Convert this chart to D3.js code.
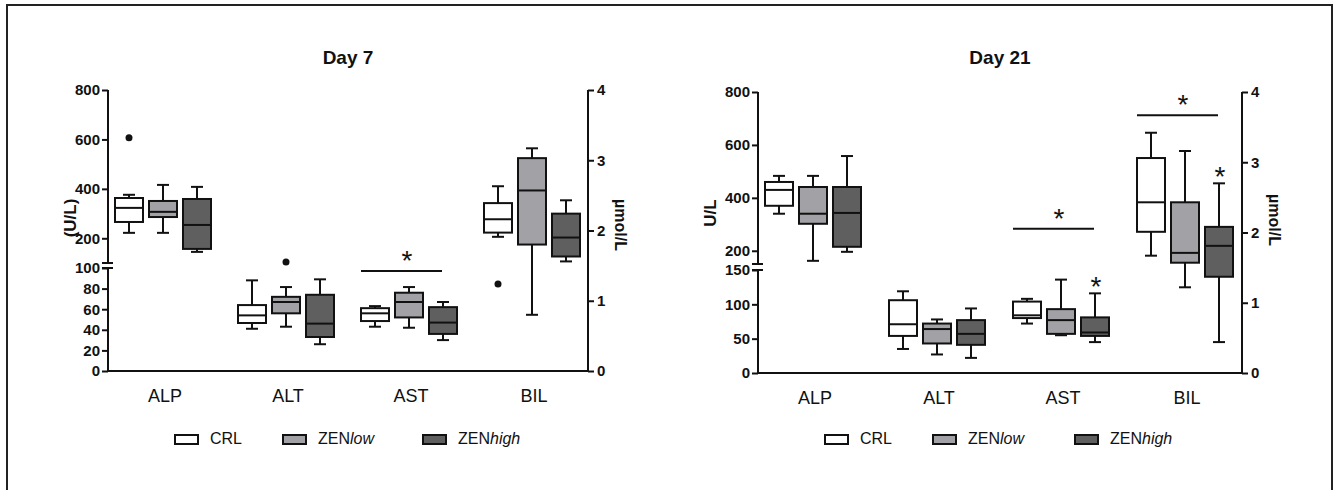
<!DOCTYPE html>
<html><head><meta charset="utf-8">
<script src="https://cdn.jsdelivr.net/npm/d3@7"></script>
<style>
body{margin:0;background:#fff;}
text{font-family:"Liberation Sans",Arial,sans-serif;fill:#111;}
</style></head>
<body><svg id="c" width="1338" height="490"></svg>
<script>
// ---------- data ----------
const categories = ["ALP","ALT","AST","BIL"];
const seriesNames = ["CRL","ZENlow","ZENhigh"];
const seriesColors = ["#ffffff","#a2a2a6","#5f5f5f"];
// each entry: [whiskerLow, q1, median, q3, whiskerHigh]; BIL is on the right (µmol/L) axis
const day7_CRL     = [[222,266,323,363,376],[41,46.6,54,64,88],[43,48.5,56,61,63],[1.91,1.97,2.16,2.39,2.63]];
const day7_ZENlow  = [[222,286,307,351,416],[43,56,67,72,81.5],[42,52,67,76,81.5],[0.8,1.8,2.57,3.03,3.17]];
const day7_ZENhigh = [[145,157,254,359,408],[26,33,46,74,89],[30,36,47,62,67],[1.56,1.63,1.9,2.24,2.43]];
const day7_outliers = [["ALP","CRL",607],["ALT","ZENlow",104],["BIL","CRL",1.24]];
const day7_brackets = [["AST",97]];
const day7_stars = [];

const day21_CRL     = [[340,370,430,460,483],[35,54,71,106,119],[72,80,84,104,108],[1.67,2.01,2.43,3.06,3.42]];
const day21_ZENlow  = [[162,302,340,441,483],[27,43,64,72,78],[55,57,77,93,136],[1.22,1.57,1.71,2.43,3.16]];
const day21_ZENhigh = [[196,215,343,441,558],[22,41,57,77,94],[45,54,59,81,116],[0.44,1.37,1.81,2.08,2.70]];
const day21_outliers = [];
const day21_brackets = [["AST",283],["BIL",3.67]];
const day21_stars = [["AST","ZENhigh"],["BIL","ZENhigh"]];

const day7_upperTicks = [200,400,600,800];
const day7_lowerTicks = [0,20,40,60,80,100];
const day21_upperTicks = [200,400,600,800];
const day21_lowerTicks = [0,50,100,150];
const rightTicks = [0,1,2,3,4];

const svg = d3.select("#c");
svg.append("rect").attr("x",7).attr("y",5).attr("width",1325).attr("height",520)
  .attr("fill","none").attr("stroke","#222").attr("stroke-width",2);

function panel(cfg){
  const g = svg.append("g");
  const yU = d3.scaleLinear().domain(cfg.upperDom).range(cfg.upperRange);
  const yL = d3.scaleLinear().domain(cfg.lowerDom).range(cfg.lowerRange);
  const yR = d3.scaleLinear().domain([0,4]).range([cfg.lowerRange[0], cfg.upperRange[1]]);
  const x = d3.scalePoint().domain(categories).range(cfg.xRange);
  const off = d3.scalePoint().domain(seriesNames).range([-34,34]);
  const bw = 28, cap = 12;
  const yv = (cat,v) => cat==="BIL" ? yR(v) : (v > cfg.lowerDom[1] ? yU(v) : yL(v));
  const data = [cfg.s0,cfg.s1,cfg.s2];

  // axes
  const axU = g.append("g").attr("transform",`translate(${cfg.ax},0)`)
    .call(d3.axisLeft(yU).tickValues(cfg.upperTicks).tickSize(6).tickSizeOuter(0).tickPadding(2));
  const axL = g.append("g").attr("transform",`translate(${cfg.ax},0)`)
    .call(d3.axisLeft(yL).tickValues(cfg.lowerTicks).tickSize(6).tickSizeOuter(0).tickPadding(2));
  const axR = g.append("g").attr("transform",`translate(${cfg.axR},0)`)
    .call(d3.axisRight(yR).tickValues(rightTicks).tickFormat(d3.format("d")).tickSize(6).tickSizeOuter(0).tickPadding(3));
  [axU,axL,axR].forEach(a=>{
    a.selectAll("path,line").attr("stroke","#111").attr("stroke-width",2);
    a.selectAll("text").attr("font-size","15px").attr("font-weight","bold").attr("fill","#111");
  });
  axU.select(".domain").attr("d",`M0,${cfg.upperRange[0]}V${cfg.upperRange[1]}`);
  axL.select(".domain").attr("d",`M0,${cfg.lowerRange[0]}V${cfg.lowerRange[1]}`);
  axR.select(".domain").attr("d",`M0,${yR(0)}V${yR(4)}`);
  // break marks
  [cfg.upperRange[0], cfg.lowerRange[1]].forEach(yy=>{
    g.append("line").attr("x1",cfg.ax-6).attr("x2",cfg.ax+5).attr("y1",yy).attr("y2",yy)
      .attr("stroke","#111").attr("stroke-width",2);
  });
  // bottom axis
  g.append("line").attr("x1",cfg.ax).attr("x2",cfg.axR).attr("y1",yL(0)).attr("y2",yL(0))
    .attr("stroke","#111").attr("stroke-width",2);
  categories.forEach(c=>{
    g.append("text").attr("x",x(c)+2).attr("y",yL(0)+31).attr("text-anchor","middle")
      .attr("font-size","18px").text(c);
  });
  // titles & axis labels
  g.append("text").attr("x",cfg.titleX).attr("y",64).attr("text-anchor","middle")
    .attr("font-size","19px").attr("font-weight","bold").text(cfg.title);
  g.append("text").attr("transform",`translate(${cfg.ylabX},${cfg.ylabY}) rotate(-90)`)
    .attr("text-anchor","middle").attr("font-size","17px").attr("font-weight","bold").text(cfg.ylab);
  g.append("text").attr("transform",`translate(${cfg.axR+27},${cfg.ylabY+7}) rotate(90)`)
    .attr("text-anchor","middle").attr("font-size","16px").attr("font-weight","bold").text("µmol/L");

  // boxes
  seriesNames.forEach((s,si)=>{
    categories.forEach((c,ci)=>{
      const [lo,q1,md,q3,hi] = data[si][ci];
      const cx = x(c)+off(s);
      const gg = g.append("g").attr("stroke","#111").attr("stroke-width",2);
      gg.append("line").attr("x1",cx).attr("x2",cx).attr("y1",yv(c,hi)).attr("y2",yv(c,q3));
      gg.append("line").attr("x1",cx).attr("x2",cx).attr("y1",yv(c,q1)).attr("y2",yv(c,lo));
      gg.append("line").attr("x1",cx-cap/2).attr("x2",cx+cap/2).attr("y1",yv(c,hi)).attr("y2",yv(c,hi));
      gg.append("line").attr("x1",cx-cap/2).attr("x2",cx+cap/2).attr("y1",yv(c,lo)).attr("y2",yv(c,lo));
      gg.append("rect").attr("x",cx-bw/2).attr("width",bw).attr("y",yv(c,q3))
        .attr("height",yv(c,q1)-yv(c,q3)).attr("fill",seriesColors[si]);
      gg.append("line").attr("x1",cx-bw/2).attr("x2",cx+bw/2).attr("y1",yv(c,md)).attr("y2",yv(c,md));
    });
  });
  cfg.outliers.forEach(([c,s,v])=>{
    g.append("circle").attr("cx",x(c)+off(s)).attr("cy",yv(c,v)).attr("r",3.5).attr("fill","#111");
  });
  cfg.brackets.forEach(([c,v])=>{
    const yy = yv(c,v);
    g.append("line").attr("x1",x(c)+off("CRL")-bw/2).attr("x2",x(c)+off("ZENhigh")-1)
      .attr("y1",yy).attr("y2",yy).attr("stroke","#111").attr("stroke-width",2);
    g.append("text").attr("x",x(c)-2).attr("y",yy-1).attr("text-anchor","middle")
      .attr("font-size","28px").text("*");
  });
  cfg.stars.forEach(([c,s])=>{
    const si = seriesNames.indexOf(s);
    const hi = data[si][categories.indexOf(c)][4];
    g.append("text").attr("x",x(c)+off(s)+1).attr("y",yv(c,hi)+3).attr("text-anchor","middle")
      .attr("font-size","28px").text("*");
  });
  // legend
  const lg = g.append("g");
  seriesNames.forEach((s,si)=>{
    const lx = cfg.legX[si];
    lg.append("rect").attr("x",lx).attr("y",435).attr("width",23).attr("height",9)
      .attr("fill",seriesColors[si]).attr("stroke","#111").attr("stroke-width",2);
    const t = lg.append("text").attr("x",lx+35).attr("y",444).attr("font-size","16px");
    if (s==="CRL") t.text("CRL");
    else { t.append("tspan").text("ZEN"); t.append("tspan").attr("font-style","italic").text(s.slice(3)); }
  });
}

panel({title:"Day 7", titleX:348, ylab:"(U/L)", ylabX:76, ylabY:218,
  ax:108, axR:588, xRange:[163,532],
  upperDom:[100,800], upperRange:[263,90], lowerDom:[0,100], lowerRange:[371,268],
  upperTicks:day7_upperTicks, lowerTicks:day7_lowerTicks,
  s0:day7_CRL, s1:day7_ZENlow, s2:day7_ZENhigh,
  outliers:day7_outliers, brackets:day7_brackets, stars:day7_stars,
  legX:[175,283,423]});

panel({title:"Day 21", titleX:1000, ylab:"U/L", ylabX:716, ylabY:213,
  ax:758, axR:1242, xRange:[813,1185],
  upperDom:[150,800], upperRange:[264,92], lowerDom:[0,150], lowerRange:[373,270],
  upperTicks:day21_upperTicks, lowerTicks:day21_lowerTicks,
  s0:day21_CRL, s1:day21_ZENlow, s2:day21_ZENhigh,
  outliers:day21_outliers, brackets:day21_brackets, stars:day21_stars,
  legX:[825,933,1075]});
</script></body></html>
